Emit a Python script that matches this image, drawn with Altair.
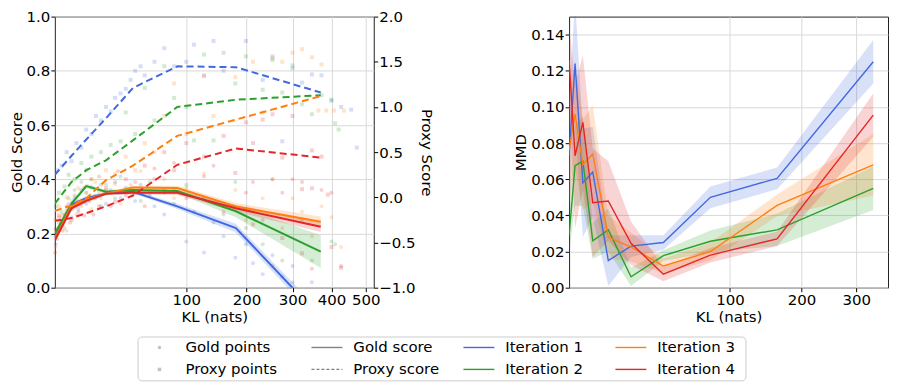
import altair as alt
import pandas as pd

FONT = "DejaVu Sans"
FS = 15
ITERS = ["Iteration 1", "Iteration 2", "Iteration 3", "Iteration 4"]
COLORS = ["#4169e1", "#2ca02c", "#ff7f0e", "#e32626"]

# ---------------- left panel: gold / proxy score vs KL ----------------
kl_left = [0.9, 4.4, 9.7, 20, 40, 88, 180, 371]

gold_it1 = [0.185, 0.307, 0.33, 0.347, 0.354, 0.30, 0.22, -0.11]
gold_it2 = [0.20, 0.31, 0.375, 0.354, 0.36, 0.357, 0.282, 0.133]
gold_it3 = [0.18, 0.30, 0.325, 0.347, 0.37, 0.368, 0.30, 0.243]
gold_it4 = [0.175, 0.293, 0.32, 0.347, 0.35, 0.35, 0.293, 0.225]

gold_ci_it1 = [0.01, 0.01, 0.008, 0.006, 0.006, 0.01, 0.016, 0.022]
gold_ci_it2 = [0.01, 0.01, 0.008, 0.006, 0.006, 0.008, 0.022, 0.06]
gold_ci_it3 = [0.01, 0.01, 0.008, 0.006, 0.006, 0.008, 0.012, 0.02]
gold_ci_it4 = [0.01, 0.01, 0.008, 0.006, 0.006, 0.008, 0.012, 0.02]

proxy_it1 = [0.25, 0.46, 0.64, 0.875, 1.21, 1.45, 1.44, 1.16]
proxy_it2 = [-0.07, 0.17, 0.30, 0.41, 0.63, 1.0, 1.08, 1.13]
proxy_it3 = [-0.15, -0.09, -0.01, 0.19, 0.35, 0.68, 0.86, 1.12]
proxy_it4 = [-0.26, -0.23, -0.175, -0.10, 0.02, 0.36, 0.54, 0.44]

# scatter of individual gold samples (kl, gold)
gold_pts_it1 = [(1.0, 0.16), (1.5, 0.21), (2.0, 0.24), (2.6, 0.27), (3.6, 0.31), (4.4, 0.26),
                (5.3, 0.33), (6.6, 0.29), (7.7, 0.36), (9.7, 0.31), (12, 0.37), (14, 0.33),
                (17, 0.38), (20, 0.31), (23, 0.36), (26, 0.39), (30, 0.33), (34, 0.37),
                (42, 0.32), (47, 0.38), (56, 0.34), (61, 0.30), (72, 0.27), (84, 0.36),
                (100, 0.17), (111, 0.28), (126, 0.13), (141, 0.24), (158, 0.19), (179, 0.11),
                (199, 0.16), (213, 0.09), (233, 0.05), (254, 0.12), (276, 0.04), (300, 0.08),
                (348, 0.02)]
gold_pts_it2 = [(1.0, 0.19), (1.5, 0.24), (2.0, 0.28), (2.6, 0.22), (3.6, 0.33), (4.4, 0.29),
                (5.3, 0.36), (6.6, 0.31), (7.7, 0.39), (9.7, 0.35), (12, 0.40), (14, 0.34),
                (17, 0.30), (20, 0.38), (26, 0.33), (30, 0.41), (38, 0.36), (47, 0.32),
                (56, 0.39), (72, 0.35), (84, 0.31), (100, 0.38), (126, 0.33), (158, 0.27),
                (179, 0.39), (199, 0.22), (233, 0.16), (254, 0.08), (276, 0.10), (300, 0.02),
                (323, 0.25), (348, 0.10), (400, 0.17), (410, 0.16)]
gold_pts_it3 = [(1.0, 0.15), (1.2, 0.20), (1.8, 0.23), (2.6, 0.27), (3.1, 0.21), (4.4, 0.32),
                (5.9, 0.27), (7.7, 0.30), (9.7, 0.35), (12, 0.29), (14, 0.39), (17, 0.33),
                (20, 0.36), (26, 0.42), (30, 0.31), (38, 0.38), (47, 0.43), (56, 0.35),
                (72, 0.40), (84, 0.33), (100, 0.37), (126, 0.42), (158, 0.30), (179, 0.36),
                (199, 0.25), (233, 0.33), (254, 0.40), (276, 0.22), (300, 0.33), (323, 0.28),
                (348, 0.19), (373, 0.30), (400, 0.26), (427, 0.15)]
gold_pts_it4 = [(0.95, 0.13), (1.2, 0.18), (1.6, 0.26), (2.2, 0.21), (3.1, 0.30), (4.0, 0.24),
                (5.3, 0.34), (6.6, 0.28), (8.8, 0.37), (11, 0.32), (13, 0.27), (16, 0.41),
                (19, 0.35), (23, 0.30), (28, 0.43), (34, 0.34), (42, 0.39), (51, 0.30),
                (61, 0.44), (72, 0.36), (84, 0.46), (100, 0.33), (126, 0.41), (141, 0.45),
                (158, 0.28), (199, 0.35), (213, 0.39), (233, 0.25), (254, 0.40), (276, 0.35),
                (300, 0.40), (323, 0.39), (348, 0.07), (373, 0.36), (400, 0.35), (427, 0.08)]

# scatter of individual proxy samples (kl, proxy)
proxy_pts_it1 = [(1.2, 0.3), (2.0, 0.35), (3.1, 0.5), (4.4, 0.4), (5.9, 0.6), (7.7, 0.55),
                 (9.7, 0.75), (12, 0.7), (14.3, 0.9), (17, 0.85), (20, 1.0), (23, 0.95),
                 (26, 1.1), (30, 1.15), (34, 1.2), (38, 1.3), (42, 1.4), (47, 1.45),
                 (51, 1.35), (61, 1.5), (72, 1.65), (84, 1.45), (100, 1.5), (111, 1.69),
                 (126, 1.35), (141, 1.73), (158, 1.4), (199, 1.73), (233, 1.3), (254, 1.56),
                 (276, 0.62), (300, 1.43), (323, 1.27), (348, 1.36), (373, 1.35), (400, 1.07),
                 (427, 1.0), (456, 0.97), (473, 0.55)]
proxy_pts_it2 = [(1.0, -0.1), (1.5, 0.05), (2.6, 0.12), (3.6, 0.25), (5.3, 0.2), (7.7, 0.38),
                 (9.7, 0.3), (12, 0.45), (17, 0.5), (23, 0.58), (30, 0.62), (34, 0.94),
                 (42, 0.7), (51, 1.21), (61, 0.85), (72, 1.45), (84, 1.1), (100, 1.0),
                 (111, 0.63), (126, 1.58), (141, 0.63), (158, 1.6), (179, 1.26), (199, 1.56),
                 (233, 1.19), (254, 1.52), (276, 1.16), (300, 1.46), (323, 1.03), (348, 0.92),
                 (373, 1.13), (400, 1.08), (410, 0.82), (420, 0.75)]
proxy_pts_it3 = [(1.0, -0.25), (1.5, -0.1), (2.2, -0.2), (3.1, 0.0), (4.4, -0.12), (6.6, 0.1),
                 (8.8, -0.05), (12, 0.2), (16, 0.05), (20, 0.3), (26, 0.15), (34, 0.45),
                 (42, 0.3), (51, 0.6), (61, 0.5), (72, 0.9), (84, 1.26), (100, 0.7),
                 (126, 1.34), (141, 0.9), (179, 1.33), (213, 1.5), (233, 0.94), (254, 1.54),
                 (276, 1.5), (300, 1.6), (323, 1.64), (348, 1.55), (373, 1.47), (365, 0.96),
                 (386, 0.96), (407, 0.96), (435, 0.96)]
proxy_pts_it4 = [(1.0, -0.35), (1.5, -0.2), (2.2, -0.3), (3.1, -0.15), (4.4, -0.25), (6.6, -0.05),
                 (8.8, -0.2), (12, 0.0), (16, -0.1), (20, 0.1), (26, -0.05), (34, 0.2),
                 (42, 0.05), (51, 0.35), (61, 0.2), (72, 0.5), (84, 0.3), (100, 0.6),
                 (126, 0.45), (158, 0.68), (179, 0.27), (199, 0.83), (213, 0.6), (233, 0.86),
                 (254, 0.92), (276, 0.44), (300, 0.9), (323, 0.09), (348, 0.52), (373, 0.45),
                 (390, 0.03), (400, -0.55), (427, -0.78), (213, -0.3), (276, -0.45),
                 (323, -0.62), (348, 0.1)]

# ---------------- right panel: MMD vs KL ----------------
kl_right = [0.46, 1.05, 2.18, 4.2, 8.7, 18.2, 37.7, 78.6, 162, 335]
mmd_it1 = [0.073, 0.124, 0.058, 0.064, 0.015, 0.023, 0.025, 0.050, 0.0605, 0.125]
mmd_it2 = [0.029, 0.0675, 0.070, 0.026, 0.032, 0.006, 0.0177, 0.0257, 0.032, 0.055]
mmd_it3 = [0.076, 0.096, 0.068, 0.074, 0.028, 0.0225, 0.012, 0.020, 0.0455, 0.068]
mmd_it4 = [0.126, 0.073, 0.0915, 0.047, 0.048, 0.0246, 0.0075, 0.018, 0.027, 0.0955]
mmd_ci_it1 = [0.03, 0.035, 0.03, 0.025, 0.014, 0.006, 0.004, 0.006, 0.006, 0.012]
mmd_ci_it2 = [0.01, 0.022, 0.025, 0.01, 0.012, 0.005, 0.003, 0.006, 0.009, 0.012]
mmd_ci_it3 = [0.03, 0.03, 0.025, 0.027, 0.012, 0.008, 0.004, 0.005, 0.006, 0.017]
mmd_ci_it4 = [0.02, 0.04, 0.037, 0.03, 0.022, 0.012, 0.004, 0.004, 0.004, 0.012]

# ---------------- legend entries (column-major, 2 rows) ----------------
legend_labels = ["Gold points", "Proxy points", "Gold score", "Proxy score",
                 "Iteration 1", "Iteration 2", "Iteration 3", "Iteration 4"]
legend_kinds = ["circle", "square", "solid", "dashed", "solid", "solid", "solid", "solid"]
legend_colors = ["#aaaaaa", "#aaaaaa", "#808080", "#808080"] + COLORS

# ---------------- build tables ----------------
gold_means = [gold_it1, gold_it2, gold_it3, gold_it4]
gold_cis = [gold_ci_it1, gold_ci_it2, gold_ci_it3, gold_ci_it4]
proxies = [proxy_it1, proxy_it2, proxy_it3, proxy_it4]
rows = []
for it, g, c, p in zip(ITERS, gold_means, gold_cis, proxies):
    for k, gv, cv, pv in zip(kl_left, g, c, p):
        rows.append({"iteration": it, "kl": k, "gold": gv, "lo": gv - cv, "hi": gv + cv, "proxy": pv})
left_df = pd.DataFrame(rows)

gold_pts_df = pd.DataFrame([{"iteration": it, "kl": k, "v": v}
                            for it, pts in zip(ITERS, [gold_pts_it1, gold_pts_it2, gold_pts_it3, gold_pts_it4])
                            for k, v in pts])
proxy_pts_df = pd.DataFrame([{"iteration": it, "kl": k, "v": v}
                             for it, pts in zip(ITERS, [proxy_pts_it1, proxy_pts_it2, proxy_pts_it3, proxy_pts_it4])
                             for k, v in pts])

mrows = []
for it, m, c in zip(ITERS, [mmd_it1, mmd_it2, mmd_it3, mmd_it4], [mmd_ci_it1, mmd_ci_it2, mmd_ci_it3, mmd_ci_it4]):
    for k, mv, cv in zip(kl_right, m, c):
        mrows.append({"iteration": it, "kl": k, "mmd": mv, "lo": mv - cv, "hi": mv + cv})
mmd_df = pd.DataFrame(mrows)

leg_df = pd.DataFrame({
    "label": legend_labels,
    "kind": legend_kinds,
    "color": legend_colors,
    "col": [i // 2 for i in range(len(legend_labels))],
    "row": [i % 2 for i in range(len(legend_labels))],
})

color = alt.Color("iteration:N", scale=alt.Scale(domain=ITERS, range=COLORS), legend=None)

# ---------------- left panel ----------------
xl_scale = alt.Scale(type="sqrt", domain=[0.9, 525], zero=False, nice=False)
xl = alt.X("kl:Q", scale=xl_scale,
           axis=alt.Axis(values=[100, 200, 300, 400, 500], title="KL (nats)", grid=True))
gold_scale = alt.Scale(domain=[0, 1], nice=False, zero=False)
proxy_scale = alt.Scale(domain=[-1, 2], nice=False, zero=False)

gold_pts = alt.Chart(gold_pts_df).mark_circle(size=16, opacity=0.22).encode(
    x=xl,
    y=alt.Y("v:Q", scale=gold_scale,
            axis=alt.Axis(orient="left", values=[0, 0.2, 0.4, 0.6, 0.8, 1.0], format=".1f",
                          title="Gold Score", grid=True, titlePadding=2)),
    color=color)
proxy_pts = alt.Chart(proxy_pts_df).mark_square(size=16, opacity=0.22).encode(
    x=xl,
    y=alt.Y("v:Q", scale=proxy_scale,
            axis=alt.Axis(orient="right", values=[-1, -0.5, 0, 0.5, 1, 1.5, 2], format=".1f",
                          title="Proxy Score", grid=False, titlePadding=3, labelPadding=1)),
    color=color)
gold_band = alt.Chart(left_df).mark_area(opacity=0.2, clip=True).encode(
    x=xl, y=alt.Y("lo:Q", scale=gold_scale, axis=None), y2="hi:Q", color=color)
gold_line = alt.Chart(left_df).mark_line(strokeWidth=2, clip=True).encode(
    x=xl, y=alt.Y("gold:Q", scale=gold_scale, axis=None), color=color)
proxy_line = alt.Chart(left_df).mark_line(strokeWidth=2, strokeDash=[7, 4], clip=True).encode(
    x=xl, y=alt.Y("proxy:Q", scale=proxy_scale, axis=None), color=color)

left = alt.layer(gold_pts, proxy_pts, gold_band, gold_line, proxy_line).resolve_scale(
    y="independent").properties(width=320, height=272)

# ---------------- right panel ----------------
xr = alt.X("kl:Q", scale=alt.Scale(type="sqrt", domain=[0.46, 367], zero=False, nice=False),
           axis=alt.Axis(values=[100, 200, 300], title="KL (nats)", grid=True))
mmd_scale = alt.Scale(domain=[0, 0.15], nice=False, zero=False)
hide_top = "datum.value > 0.145"
mmd_axis = alt.Axis(values=[0, 0.02, 0.04, 0.06, 0.08, 0.10, 0.12, 0.14, 0.15], format=".2f",
                    title="MMD", grid=True, titlePadding=2, labelOverlap=False,
                    labelColor={"condition": {"test": hide_top, "value": "transparent"}, "value": "black"},
                    tickColor={"condition": {"test": hide_top, "value": "transparent"}, "value": "black"},
                    gridColor={"condition": {"test": hide_top, "value": "transparent"}, "value": "#d9d9d9"})
mmd_band = alt.Chart(mmd_df).mark_area(opacity=0.2, clip=True).encode(
    x=xr, y=alt.Y("lo:Q", scale=mmd_scale, axis=mmd_axis), y2="hi:Q", color=color)
mmd_line = alt.Chart(mmd_df).mark_line(strokeWidth=1.4, clip=True).encode(
    x=xr, y=alt.Y("mmd:Q", scale=mmd_scale, axis=mmd_axis), color=color)
right = alt.layer(mmd_band, mmd_line).properties(width=320, height=272)

# ---------------- legend ----------------
lx = alt.X("col:Q", scale=alt.Scale(domain=[0, 4], nice=False, zero=False), axis=None)
ly = alt.Y("row:O", scale=alt.Scale(type="point", padding=0.5), axis=None)
lcol = alt.Color("color:N", scale=None)
leg_base = alt.Chart(leg_df)
leg_circle = leg_base.transform_filter("datum.kind == 'circle'").mark_point(
    shape="circle", filled=True, size=12, opacity=0.7, xOffset=22).encode(x=lx, y=ly, color=lcol)
leg_square = leg_base.transform_filter("datum.kind == 'square'").mark_point(
    shape="square", filled=True, size=12, opacity=0.7, xOffset=22).encode(x=lx, y=ly, color=lcol)
leg_solid = leg_base.transform_filter("datum.kind == 'solid'").mark_rule(
    strokeWidth=1.4, xOffset=22, x2Offset=53).encode(x=lx, x2="col:Q", y=ly, color=lcol)
leg_dash = leg_base.transform_filter("datum.kind == 'dashed'").mark_rule(
    strokeWidth=1.2, strokeDash=[3, 2], xOffset=22, x2Offset=53).encode(x=lx, x2="col:Q", y=ly, color=lcol)
leg_text_pts = leg_base.transform_filter("datum.kind == 'circle' || datum.kind == 'square'").mark_text(
    align="left", baseline="middle", dx=48, fontSize=FS, font=FONT, color="black").encode(
    x=lx, y=ly, text="label:N")
leg_text_lines = leg_base.transform_filter("datum.kind == 'solid' || datum.kind == 'dashed'").mark_text(
    align="left", baseline="middle", dx=64, fontSize=FS, font=FONT, color="black").encode(
    x=lx, y=ly, text="label:N")
legend = alt.layer(leg_circle, leg_square, leg_solid, leg_dash, leg_text_pts, leg_text_lines).properties(
    width=610, height=44,
    view=alt.ViewBackground(stroke="#cccccc", strokeWidth=1, cornerRadius=4))

# invisible spacer that pushes the legend box to the right
spacer = alt.Chart(leg_df).mark_point(opacity=0).encode(x=lx, y=ly).properties(
    width=82, height=44, view=alt.ViewBackground(stroke="transparent", strokeWidth=0))

top = alt.hconcat(left, right, spacing=80)
bottom = alt.hconcat(spacer, legend, spacing=0)
chart = alt.vconcat(top, bottom, spacing=10).properties(
    padding={"left": 0, "top": 0, "right": 0, "bottom": 0}
).configure(font=FONT).configure_axis(
    labelFont=FONT, titleFont=FONT, labelFontSize=FS, titleFontSize=FS,
    titleFontWeight="normal", labelColor="black", titleColor="black",
    tickColor="black", tickSize=4, labelPadding=1, domain=False,
    gridColor="#d9d9d9", gridWidth=1, titlePadding=2, labelOverlap=False
).configure_view(stroke="#222222", strokeWidth=1)

chart.save("out.html", embed_options={"renderer": "svg", "actions": False})
